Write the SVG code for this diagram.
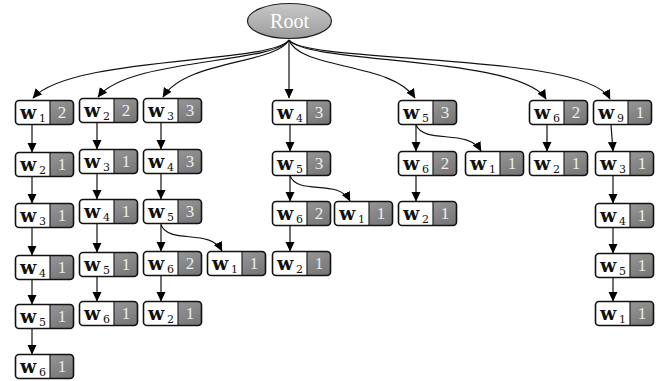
<svg xmlns="http://www.w3.org/2000/svg" width="665" height="381" viewBox="0 0 665 381">
<defs>
<linearGradient id="gg" x1="0" y1="0" x2="1" y2="1"><stop offset="0" stop-color="#a6a6a6"/><stop offset="1" stop-color="#737373"/></linearGradient>
<linearGradient id="rg" x1="0" y1="0" x2="0" y2="1"><stop offset="0" stop-color="#c8c8c8"/><stop offset="1" stop-color="#9c9c9c"/></linearGradient>
<marker id="ah" markerWidth="10" markerHeight="10" refX="9" refY="5" orient="auto" markerUnits="userSpaceOnUse"><path d="M0,0.5 L9.5,5 L0,9.5 Z" fill="#000"/></marker>
<symbol id="box" overflow="visible">
<rect x="0.5" y="0.5" width="58" height="24" rx="3.5" fill="url(#gg)" stroke="none"/>
<path d="M4,0.5 H35 V24.5 H4 Q0.5,24.5 0.5,21 V4 Q0.5,0.5 4,0.5 Z" fill="#fff"/>
<line x1="35" y1="0.5" x2="35" y2="24.5" stroke="#222" stroke-width="1.2"/>
<rect x="0.5" y="0.5" width="58" height="24" rx="3.5" fill="none" stroke="#111" stroke-width="1.6"/>
</symbol>
</defs>
<style>
.w{font-family:"DejaVu Serif",serif;font-weight:bold;font-size:19px;fill:#111}
.s{font-family:"DejaVu Serif",serif;font-size:11px;fill:#111}
.n{font-family:"Liberation Serif",serif;font-size:17px;fill:#ececec}
.e{fill:none;stroke:#111;stroke-width:1.2;marker-end:url(#ah)}
.rt{font-family:"Liberation Serif",serif;font-size:20px;fill:#fff}
</style>
<g id="root"><ellipse cx="289.5" cy="21" rx="42" ry="17.5" fill="url(#rg)" stroke="#222" stroke-width="1.2"/><text class="rt" x="289.5" y="28" text-anchor="middle">Root</text></g>
<g id="connectors">
<path class="e" d="M289,40 C272,64 70,56 33,98"/>
<path class="e" d="M289,40 C274,64 128,58 98,97"/>
<path class="e" d="M289,40 C276,64 186,60 163,97"/>
<path class="e" d="M289,40 L289,98"/>
<path class="e" d="M289,40 C300,70 392,62 415,98"/>
<path class="e" d="M289,40 C306,64 520,56 546,99"/>
<path class="e" d="M289,40 C306,64 586,52 610,99"/>
<path class="e" d="M32,125 V152"/><path class="e" d="M32,177 V203"/><path class="e" d="M32,228 V255"/><path class="e" d="M32,280 V304"/><path class="e" d="M32,329 V354"/>
<path class="e" d="M97,123 V149"/><path class="e" d="M97,174 V199"/><path class="e" d="M97,224 V252"/><path class="e" d="M97,277 V301"/>
<path class="e" d="M161,123 V149"/><path class="e" d="M161,174 V199"/><path class="e" d="M161,224 V251"/><path class="e" d="M161,276 V301"/>
<path class="e" d="M161,225 C170,245 210,228 222,251"/>
<path class="e" d="M290,125 V151"/><path class="e" d="M290,176 V201"/><path class="e" d="M290,226 V251"/>
<path class="e" d="M290,176 C299,196 338,178 350,201"/>
<path class="e" d="M416,125 V151"/><path class="e" d="M416,176 V201"/>
<path class="e" d="M416,125 C425,145 468,128 481,151"/>
<path class="e" d="M547,125 V151"/>
<path class="e" d="M611,125 L613,151"/><path class="e" d="M613,176 V203"/><path class="e" d="M613,228 V253"/><path class="e" d="M613,278 V301"/>
</g>
<g id="c1r1" transform="translate(15,100)"><use href="#box"/><text class="w" x="5" y="19">w</text><text class="s" x="24" y="22">1</text><text class="n" x="47" y="18" text-anchor="middle">2</text></g>
<g id="c1r2" transform="translate(15,152)"><use href="#box"/><text class="w" x="5" y="19">w</text><text class="s" x="24" y="22">2</text><text class="n" x="47" y="18" text-anchor="middle">1</text></g>
<g id="c1r3" transform="translate(15,203)"><use href="#box"/><text class="w" x="5" y="19">w</text><text class="s" x="24" y="22">3</text><text class="n" x="47" y="18" text-anchor="middle">1</text></g>
<g id="c1r4" transform="translate(15,255)"><use href="#box"/><text class="w" x="5" y="19">w</text><text class="s" x="24" y="22">4</text><text class="n" x="47" y="18" text-anchor="middle">1</text></g>
<g id="c1r5" transform="translate(15,304)"><use href="#box"/><text class="w" x="5" y="19">w</text><text class="s" x="24" y="22">5</text><text class="n" x="47" y="18" text-anchor="middle">1</text></g>
<g id="c1r6" transform="translate(15,354)"><use href="#box"/><text class="w" x="5" y="19">w</text><text class="s" x="24" y="22">6</text><text class="n" x="47" y="18" text-anchor="middle">1</text></g>
<g id="c2r1" transform="translate(79,98)"><use href="#box"/><text class="w" x="5" y="19">w</text><text class="s" x="24" y="22">2</text><text class="n" x="47" y="18" text-anchor="middle">2</text></g>
<g id="c2r2" transform="translate(79,149)"><use href="#box"/><text class="w" x="5" y="19">w</text><text class="s" x="24" y="22">3</text><text class="n" x="47" y="18" text-anchor="middle">1</text></g>
<g id="c2r3" transform="translate(79,199)"><use href="#box"/><text class="w" x="5" y="19">w</text><text class="s" x="24" y="22">4</text><text class="n" x="47" y="18" text-anchor="middle">1</text></g>
<g id="c2r4" transform="translate(79,252)"><use href="#box"/><text class="w" x="5" y="19">w</text><text class="s" x="24" y="22">5</text><text class="n" x="47" y="18" text-anchor="middle">1</text></g>
<g id="c2r5" transform="translate(79,301)"><use href="#box"/><text class="w" x="5" y="19">w</text><text class="s" x="24" y="22">6</text><text class="n" x="47" y="18" text-anchor="middle">1</text></g>
<g id="c3r1" transform="translate(143,98)"><use href="#box"/><text class="w" x="5" y="19">w</text><text class="s" x="24" y="22">3</text><text class="n" x="47" y="18" text-anchor="middle">3</text></g>
<g id="c3r2" transform="translate(143,149)"><use href="#box"/><text class="w" x="5" y="19">w</text><text class="s" x="24" y="22">4</text><text class="n" x="47" y="18" text-anchor="middle">3</text></g>
<g id="c3r3" transform="translate(143,199)"><use href="#box"/><text class="w" x="5" y="19">w</text><text class="s" x="24" y="22">5</text><text class="n" x="47" y="18" text-anchor="middle">3</text></g>
<g id="c3r4" transform="translate(143,251)"><use href="#box"/><text class="w" x="5" y="19">w</text><text class="s" x="24" y="22">6</text><text class="n" x="47" y="18" text-anchor="middle">2</text></g>
<g id="c3r5" transform="translate(143,301)"><use href="#box"/><text class="w" x="5" y="19">w</text><text class="s" x="24" y="22">2</text><text class="n" x="47" y="18" text-anchor="middle">1</text></g>
<g id="c3b" transform="translate(207,251)"><use href="#box"/><text class="w" x="5" y="19">w</text><text class="s" x="24" y="22">1</text><text class="n" x="47" y="18" text-anchor="middle">1</text></g>
<g id="c4r1" transform="translate(272,100)"><use href="#box"/><text class="w" x="5" y="19">w</text><text class="s" x="24" y="22">4</text><text class="n" x="47" y="18" text-anchor="middle">3</text></g>
<g id="c4r2" transform="translate(272,151)"><use href="#box"/><text class="w" x="5" y="19">w</text><text class="s" x="24" y="22">5</text><text class="n" x="47" y="18" text-anchor="middle">3</text></g>
<g id="c4r3" transform="translate(272,201)"><use href="#box"/><text class="w" x="5" y="19">w</text><text class="s" x="24" y="22">6</text><text class="n" x="47" y="18" text-anchor="middle">2</text></g>
<g id="c4r4" transform="translate(272,251)"><use href="#box"/><text class="w" x="5" y="19">w</text><text class="s" x="24" y="22">2</text><text class="n" x="47" y="18" text-anchor="middle">1</text></g>
<g id="c4b" transform="translate(334,201)"><use href="#box"/><text class="w" x="5" y="19">w</text><text class="s" x="24" y="22">1</text><text class="n" x="47" y="18" text-anchor="middle">1</text></g>
<g id="c5r1" transform="translate(398,100)"><use href="#box"/><text class="w" x="5" y="19">w</text><text class="s" x="24" y="22">5</text><text class="n" x="47" y="18" text-anchor="middle">3</text></g>
<g id="c5r2" transform="translate(398,151)"><use href="#box"/><text class="w" x="5" y="19">w</text><text class="s" x="24" y="22">6</text><text class="n" x="47" y="18" text-anchor="middle">2</text></g>
<g id="c5r3" transform="translate(398,201)"><use href="#box"/><text class="w" x="5" y="19">w</text><text class="s" x="24" y="22">2</text><text class="n" x="47" y="18" text-anchor="middle">1</text></g>
<g id="c5b" transform="translate(465,151)"><use href="#box"/><text class="w" x="5" y="19">w</text><text class="s" x="24" y="22">1</text><text class="n" x="47" y="18" text-anchor="middle">1</text></g>
<g id="c6r1" transform="translate(529,100)"><use href="#box"/><text class="w" x="5" y="19">w</text><text class="s" x="24" y="22">6</text><text class="n" x="47" y="18" text-anchor="middle">2</text></g>
<g id="c6r2" transform="translate(529,151)"><use href="#box"/><text class="w" x="5" y="19">w</text><text class="s" x="24" y="22">2</text><text class="n" x="47" y="18" text-anchor="middle">1</text></g>
<g id="c7r1" transform="translate(593,100)"><use href="#box"/><text class="w" x="5" y="19">w</text><text class="s" x="24" y="22">9</text><text class="n" x="47" y="18" text-anchor="middle">1</text></g>
<g id="c7r2" transform="translate(595,151)"><use href="#box"/><text class="w" x="5" y="19">w</text><text class="s" x="24" y="22">3</text><text class="n" x="47" y="18" text-anchor="middle">1</text></g>
<g id="c7r3" transform="translate(595,203)"><use href="#box"/><text class="w" x="5" y="19">w</text><text class="s" x="24" y="22">4</text><text class="n" x="47" y="18" text-anchor="middle">1</text></g>
<g id="c7r4" transform="translate(595,253)"><use href="#box"/><text class="w" x="5" y="19">w</text><text class="s" x="24" y="22">5</text><text class="n" x="47" y="18" text-anchor="middle">1</text></g>
<g id="c7r5" transform="translate(595,301)"><use href="#box"/><text class="w" x="5" y="19">w</text><text class="s" x="24" y="22">1</text><text class="n" x="47" y="18" text-anchor="middle">1</text></g>
</svg>
